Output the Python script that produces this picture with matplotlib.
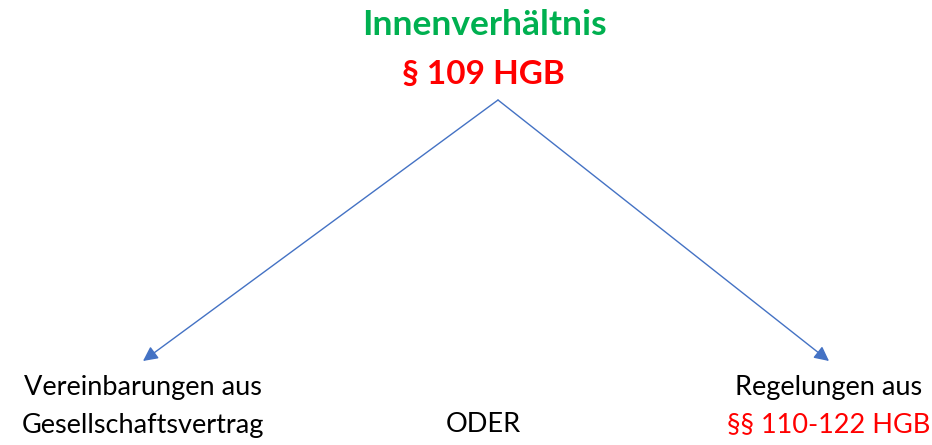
import matplotlib.pyplot as plt
from matplotlib.patches import FancyArrowPatch

plt.rcParams['font.family'] = ['Lato', 'DejaVu Sans']

# texts of the diagram
title = 'Innenverhältnis'
subtitle = '§ 109 HGB'
left_lines = ['Vereinbarungen aus', 'Gesellschaftsvertrag']
middle_text = 'ODER'
right_lines = ['Regelungen aus', '§§ 110-122 HGB']

GREEN = '#00B050'
RED = '#FF0000'
BLUE = '#4472C4'

fig = plt.figure(figsize=(9.32, 4.45), dpi=100)
ax = fig.add_axes([0, 0, 1, 1])
ax.set_xlim(0, 932)
ax.set_ylim(445, 0)
ax.axis('off')

# header
ax.text(484, 25, title, color=GREEN, fontsize=25.5, fontweight='bold',
        ha='center', va='center')
ax.text(483, 74, subtitle, color=RED, fontsize=24, fontweight='bold',
        ha='center', va='center')

# arrows from apex
apex = (498, 100)
for tip in [(143, 361), (829, 361)]:
    ax.add_patch(FancyArrowPatch(apex, tip, arrowstyle='-|>', mutation_scale=22,
                                 color=BLUE, lw=1, shrinkA=0, shrinkB=0))

# bottom labels
fs = 19.5
ax.text(143, 387, left_lines[0], fontsize=fs, ha='center', va='center')
ax.text(143, 425, left_lines[1], fontsize=fs, ha='center', va='center')
ax.text(483, 425, middle_text, fontsize=fs, ha='center', va='center')
ax.text(829, 387, right_lines[0], fontsize=fs, ha='center', va='center')
ax.text(829, 425, right_lines[1], fontsize=fs, color=RED, ha='center', va='center')

fig.savefig('out.png', dpi=100)
